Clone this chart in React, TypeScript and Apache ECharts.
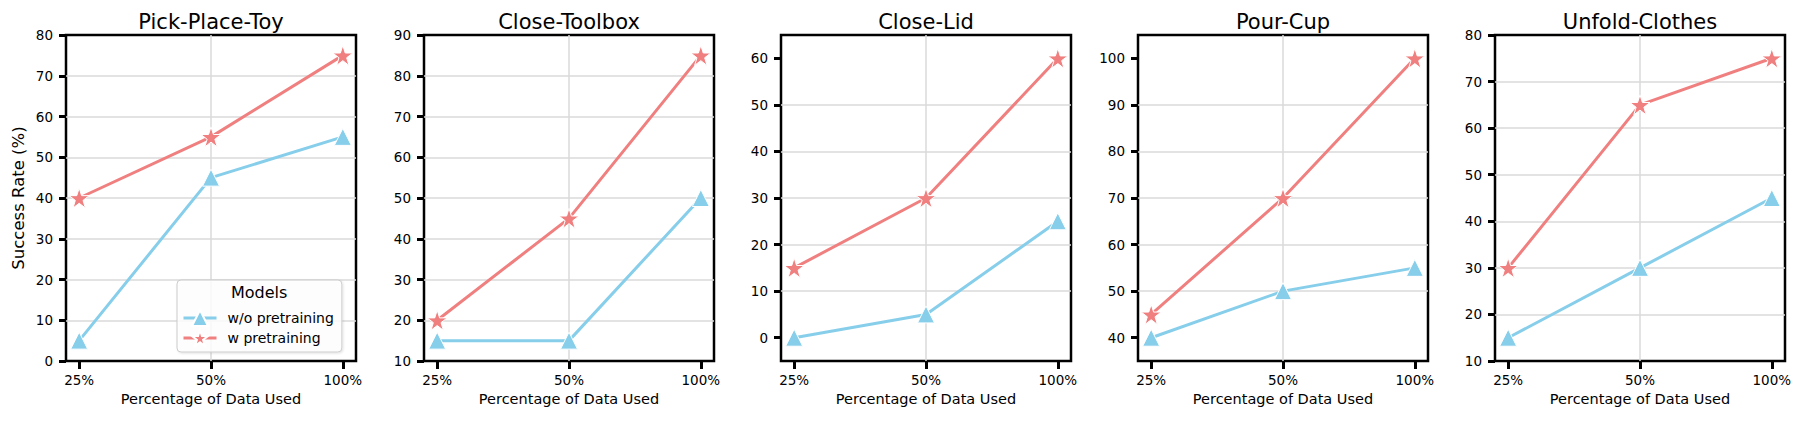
import {useEffect, useRef} from "react";
import * as echarts from "echarts";

// data
const categories = ["25%", "50%", "100%"];
const tasks = ["Pick-Place-Toy", "Close-Toolbox", "Close-Lid", "Pour-Cup", "Unfold-Clothes"];
const modelNames = ["w/o pretraining", "w pretraining"];

const withoutPretraining = [
    [5, 45, 55],
    [15, 15, 50],
    [0, 5, 25],
    [40, 50, 55],
    [15, 30, 45],
];
const withPretraining = [
    [40, 55, 75],
    [20, 45, 85],
    [15, 30, 60],
    [45, 70, 100],
    [30, 65, 75],
];
const yRanges = [[0, 80], [10, 90], [-5, 65], [35, 105], [10, 80]];
const yTicks = [
    [0, 10, 20, 30, 40, 50, 60, 70, 80],
    [10, 20, 30, 40, 50, 60, 70, 80, 90],
    [0, 10, 20, 30, 40, 50, 60],
    [40, 50, 60, 70, 80, 90, 100],
    [10, 20, 30, 40, 50, 60, 70, 80],
];

const FONT = "DejaVu Sans";
const BLUE = "#87CEEB";
const RED = "#F08080";
const STAR = "path://M50,0 L61.8,35.1 L98.9,35.1 L68.9,56.9 L80.3,91.9 L50,70.2 L19.7,91.9 L31.1,56.9 L1.1,35.1 L38.2,35.1 Z";

const GRID_LEFTS = [66, 424, 781, 1138, 1495];
const GRID_W = 290;
const GRID_TOP = 35;
const GRID_H = 326;

function buildOption() {
    const xIdx = categories.map((_, i) => i);
    const grid = GRID_LEFTS.map(left => ({
        left, top: GRID_TOP, width: GRID_W, height: GRID_H,
        show: true, borderColor: "#000", borderWidth: 2.5, backgroundColor: "transparent",
    }));
    const title = tasks.map((t, i) => ({
        text: t, left: GRID_LEFTS[i] + GRID_W / 2, top: 11, textAlign: "center", padding: 0,
        textStyle: {fontFamily: FONT, fontSize: 21, fontWeight: "normal", color: "#000"},
    }));
    const xAxis = tasks.map((_, i) => ({
        type: "value", gridIndex: i, min: -0.1, max: 2.1,
        name: "Percentage of Data Used", nameLocation: "middle", nameGap: 30,
        nameTextStyle: {fontFamily: FONT, fontSize: 14.5, color: "#000"},
        axisLine: {show: false, onZero: false},
        axisTick: {show: true, inside: false, customValues: xIdx, length: 8, lineStyle: {color: "#000", width: 3}},
        axisLabel: {
            customValues: xIdx, margin: 12, fontFamily: FONT, fontSize: 13.5, color: "#000",
            formatter: (v: number) => categories[Math.round(v)] ?? "",
        },
        splitLine: {show: true, showMinLine: false, showMaxLine: false, lineStyle: {color: "#dadada", width: 1.5}},
    }));
    const yAxis = tasks.map((_, i) => ({
        type: "value", gridIndex: i, min: yRanges[i][0], max: yRanges[i][1],
        name: i === 0 ? "Success Rate (%)" : "", nameLocation: "middle", nameGap: 39,
        nameTextStyle: {fontFamily: FONT, fontSize: 16.5, color: "#000"},
        axisLine: {show: false, onZero: false},
        axisTick: {show: true, inside: false, customValues: yTicks[i], length: 7, lineStyle: {color: "#000", width: 3}},
        axisLabel: {customValues: yTicks[i], margin: 13, fontFamily: FONT, fontSize: 13.5, color: "#000"},
        splitLine: {show: true, showMinLine: false, showMaxLine: false, lineStyle: {color: "#dadada", width: 1.5}},
    }));
    const series: any[] = [];
    tasks.forEach((_, i) => {
        series.push({
            type: "line", name: modelNames[0], xAxisIndex: i, yAxisIndex: i,
            data: withoutPretraining[i].map((v, j) => [xIdx[j], v]),
            symbol: "triangle", symbolSize: 17, color: BLUE,
            lineStyle: {color: BLUE, width: 3},
            itemStyle: {color: BLUE, borderColor: "#fff", borderWidth: 1},
        });
        series.push({
            type: "line", name: modelNames[1], xAxisIndex: i, yAxisIndex: i,
            data: withPretraining[i].map((v, j) => [xIdx[j], v]),
            symbol: STAR, symbolSize: 20, color: RED,
            lineStyle: {color: RED, width: 3},
            itemStyle: {color: RED, borderColor: "#fff", borderWidth: 1},
        });
    });
    return {
        animation: false,
        backgroundColor: "#fff",
        title, grid, xAxis, yAxis, series,
        legend: {
            data: modelNames, orient: "vertical", left: 177, top: 280,
            padding: [29, 8, 5, 5], itemWidth: 33, itemHeight: 20, itemGap: 2,
            lineStyle: {width: 3},
            backgroundColor: "rgba(255,255,255,0.85)", borderColor: "#cccccc", borderWidth: 1, borderRadius: 4,
            shadowColor: "rgba(0,0,0,0.12)", shadowBlur: 2, shadowOffsetX: 1, shadowOffsetY: 1,
            textStyle: {fontFamily: FONT, fontSize: 14, color: "#000", padding: [0, 0, 0, 6]},
        },
        graphic: [{
            type: "text", left: 262 - 31, top: 284, z: 100,
            style: {text: "Models", fontFamily: FONT, fontSize: 16, fill: "#000"},
        }],
    };
}

export default function App() {
    const domRef = useRef<HTMLDivElement>(null);

    useEffect(() => {
        if (!domRef.current) return;
        document.body.style.margin = "0";
        const chart = echarts.init(domRef.current, null, {renderer: "svg"});
        chart.setOption(buildOption() as any);
        return () => chart.dispose();
    }, []);

    return <div ref={domRef} style={{width: 1800, height: 421}} />;
}
